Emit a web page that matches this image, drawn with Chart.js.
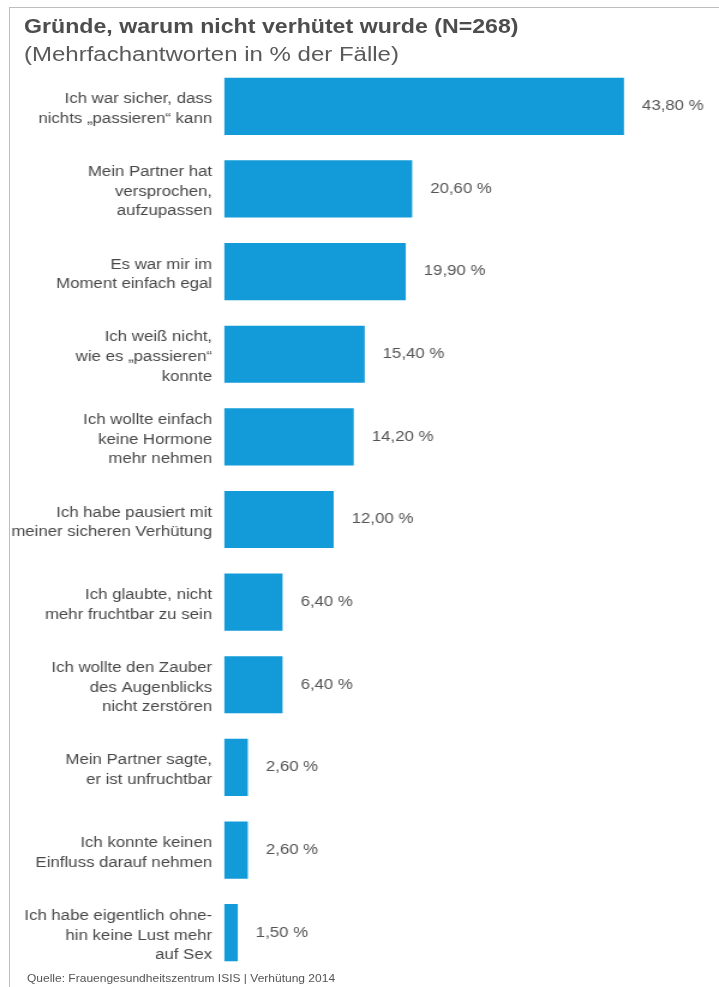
<!DOCTYPE html>
<html>
<head>
<meta charset="utf-8">
<script src="https://cdn.jsdelivr.net/npm/chart.js@4/dist/chart.umd.min.js"></script>
<style>
  html, body { margin: 0; padding: 0; background: #fff; overflow: hidden; }
  #frame { position: absolute; left: 9px; top: 7px; width: 710px; height: 980px;
           border-top: 1px solid #bdbdbd; border-left: 1px solid #bdbdbd; }
  /* the whole figure is set slightly wide: drawn at 599px and widened to 719px */
  #wrap { position: absolute; left: 0; top: 0; width: 599px; height: 987px;
          transform: scaleX(1.2003); transform-origin: 0 0; }
  #c { position: absolute; left: 0; top: 0; }
  .t { position: absolute; font-family: "Liberation Sans", Arial, sans-serif; white-space: nowrap; }
  #title { left: 20px; top: 16px; font-size: 19.3px; font-weight: bold; color: #4d4d4d; }
  #subtitle { left: 20px; top: 43px; font-size: 20px; color: #5a5a5a; }
  #source { left: 22.5px; top: 973px; font-size: 10px; color: #555; }
</style>
</head>
<body>
<div id="frame"></div>
<div id="wrap">
  <canvas id="c" width="599" height="987"></canvas>
  <div id="title" class="t">Gründe, warum nicht verhütet wurde (N=268)</div>
  <div id="subtitle" class="t">(Mehrfachantworten in % der Fälle)</div>
  <div id="source" class="t">Quelle: Frauengesundheitszentrum ISIS | Verhütung 2014</div>
</div>
<script>
// Reasons (multi-line labels) and shares in percent of cases
const reasons = [
  ["Ich war sicher, dass", "nichts „passieren“ kann"],
  ["Mein Partner hat", "versprochen,", "aufzupassen"],
  ["Es war mir im", "Moment einfach egal"],
  ["Ich weiß nicht,", "wie es „passieren“", "konnte"],
  ["Ich wollte einfach", "keine Hormone", "mehr nehmen"],
  ["Ich habe pausiert mit", "meiner sicheren Verhütung"],
  ["Ich glaubte, nicht", "mehr fruchtbar zu sein"],
  ["Ich wollte den Zauber", "des Augenblicks", "nicht zerstören"],
  ["Mein Partner sagte,", "er ist unfruchtbar"],
  ["Ich konnte keinen", "Einfluss darauf nehmen"],
  ["Ich habe eigentlich ohne-", "hin keine Lust mehr", "auf Sex"]
];
const shares = [43.8, 20.6, 19.9, 15.4, 14.2, 12.0, 6.4, 6.4, 2.6, 2.6, 1.5];

const FONT = '"Liberation Sans", Arial, sans-serif';
const fmt = v => v.toFixed(2).replace('.', ',') + ' %';

// Writes the percentage to the right of each bar
const valueLabels = {
  id: 'valueLabels',
  afterDatasetsDraw(chart) {
    const ctx = chart.ctx;
    const meta = chart.getDatasetMeta(0);
    ctx.save();
    ctx.font = '14px ' + FONT;
    ctx.fillStyle = '#555';
    ctx.textAlign = 'left';
    ctx.textBaseline = 'middle';
    meta.data.forEach((bar, i) => {
      ctx.fillText(fmt(shares[i]), bar.x + 15, bar.y);
    });
    ctx.restore();
  }
};

new Chart(document.getElementById('c'), {
  type: 'bar',
  data: {
    labels: reasons,
    datasets: [{
      data: shares,
      backgroundColor: '#129bd8',
      barPercentage: 0.692,
      categoryPercentage: 1.0
    }]
  },
  options: {
    indexAxis: 'y',
    responsive: false,
    animation: false,
    events: [],
    layout: { padding: { left: 0, right: 32, top: 65, bottom: 13 } },
    plugins: { legend: { display: false }, tooltip: { enabled: false } },
    scales: {
      x: { display: false, min: 0, max: 50 },
      y: {
        grid: { display: false },
        border: { display: false },
        afterFit(scale) {
          scale.width = 186.7;
          // bands are centred, so no extra room for the outer labels
          scale.paddingTop = 0;
          scale.paddingBottom = 0;
        },
        ticks: {
          padding: 2,
          labelOffset: 3,
          color: '#484848',
          font: { family: FONT, size: 14, lineHeight: 1.4 }
        }
      }
    }
  },
  plugins: [valueLabels]
});
</script>
</body>
</html>
